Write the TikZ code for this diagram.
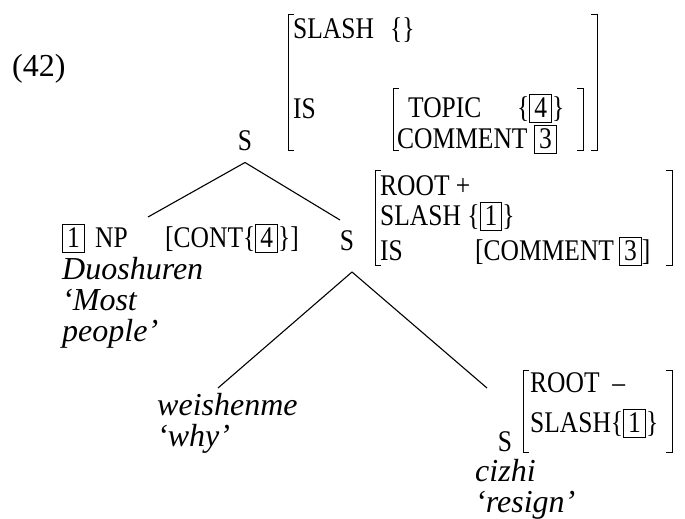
\documentclass[tikz,border=0pt]{standalone}
\usepackage{fontspec}
\setmainfont{Liberation Serif}
\newfontfamily\avmfont{Liberation Serif}[FakeStretch=0.85]
\usetikzlibrary{positioning}

\newcommand{\tagbox}[1]{{\fboxsep=0pt\fboxrule=0.9pt\fbox{\makebox[21pt]{\rule[-5pt]{0pt}{27pt}#1}}}}
\newcommand{\lbrk}[3]{\draw[brk] (#1+6,#2) -| (#1,#3) -- (#1+6,#3);}
\newcommand{\rbrk}[3]{\draw[brk] (#1-6,#2) -| (#1,#3) -- (#1-6,#3);}

\tikzset{
  feat/.style={anchor=base west,inner sep=0pt,font=\avmfont\fontsize{30}{34}\selectfont},
  gloss/.style={anchor=base west,inner sep=0pt,align=left,font=\fontsize{32}{31}\selectfont\itshape},
  cat/.style={anchor=base,inner sep=0pt,font=\avmfont\fontsize{30}{34}\selectfont},
  brk/.style={line width=1pt},
  branch/.style={line width=1.1pt},
}

\begin{document}
\begin{tikzpicture}[x=1pt,y=-1pt]
    \useasboundingbox (0,0) rectangle (685,519);
    \node [anchor=base west,inner sep=0pt,font=\fontsize{32}{36}\selectfont] (exno) at (12,76) {(42)};
    % top S
    \node [cat] (s0) at (245,150) {S};
    \lbrk{288}{15}{150} \rbrk{597}{15}{150}
    \node [feat] (s0slash) at (293,38) {SLASH};
    \node [feat] (s0slashval) at (390,38) {\{\}};
    \node [feat] (s0is) at (293,118) {IS};
    \lbrk{393}{88}{150} \rbrk{583}{88}{150}
    \node [feat] (s0topic) at (408,117) {TOPIC};
    \node [feat] (s0topicval) at (517,117) {\{\tagbox{4}\}};
    \node [feat] (s0comment) at (397,148) {COMMENT};
    \node [feat] (s0commentval) at (534,148) {\tagbox{3}};
    % NP daughter
    \node [feat] (np1) at (62,247) {\tagbox{1}};
    \node [feat] (np) at (95,247) {NP};
    \node [feat] (npcont) at (165,247) {[CONT\{\tagbox{4}\}]};
    \node [gloss] (duo) at (62,341) {Duoshuren\\`Most\\people'};
    % S daughter
    \node [cat] (s1) at (347,250) {S};
    \lbrk{375}{170}{265} \rbrk{672}{170}{265}
    \node [feat] (s1root) at (380,195) {ROOT +};
    \node [feat] (s1slash) at (380,225) {SLASH \{\tagbox{1}\}};
    \node [feat] (s1is) at (380,260) {IS};
    \node [feat] (s1comment) at (475,260) {[COMMENT\,\tagbox{3}]};
    % lowest level
    \node [gloss] (wei) at (157,446) {weishenme\\`why'};
    \node [cat] (s2) at (505,451) {S};
    \lbrk{523}{370}{452} \rbrk{672}{370}{452}
    \node [feat] (s2root) at (530,392) {ROOT\ \ –};
    \node [feat] (s2slash) at (530,432) {SLASH\{\tagbox{1}\}};
    \node [gloss] (ciz) at (475,512) {cizhi\\`resign'};
    % branches
    \coordinate (s0foot) at ([yshift=-12pt]s0.south);
    \coordinate (nphead) at (148,217);
    \coordinate (s1head) at (340,220);
    \coordinate (s1foot) at (352,272);
    \coordinate (weihead) at (218,388);
    \coordinate (s2head) at (487,388);
    \draw [branch] (s0foot) -- (nphead);
    \draw [branch] (s0foot) -- (s1head);
    \draw [branch] (s1foot) -- (weihead);
    \draw [branch] (s1foot) -- (s2head);
\end{tikzpicture}
\end{document}
